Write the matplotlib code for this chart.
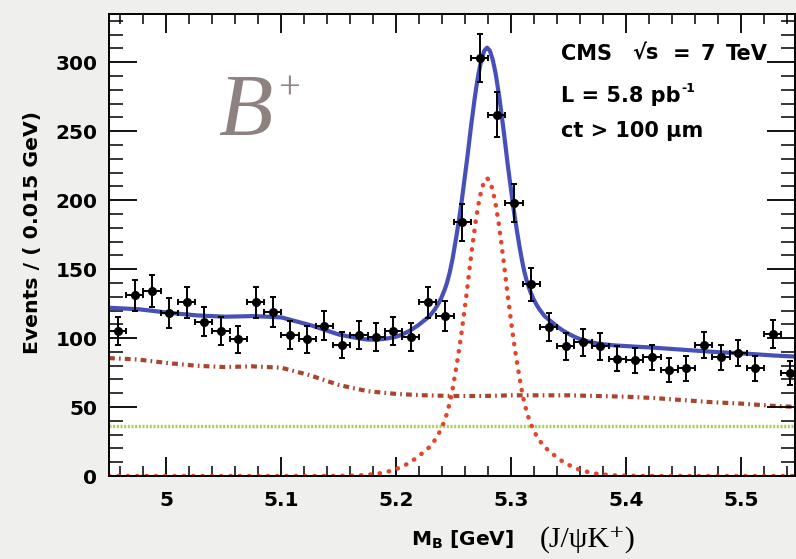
import numpy as np
import matplotlib
matplotlib.use("Agg")
import matplotlib.pyplot as plt
from matplotlib.ticker import MultipleLocator, FuncFormatter

plt.rcParams['font.family'] = ['DejaVu Sans']

# ---------------- data ----------------
bin_low = 4.95
bin_width = 0.015
counts = [105, 131, 134, 118, 126, 112, 105, 99, 126, 119,
          102, 99, 109, 95, 102, 101, 105, 101, 126, 116,
          184, 303, 262, 198, 139, 108, 94, 97, 94, 85,
          84, 86, 77, 78, 95, 86, 89, 78, 103, 75]

# signal component (red dotted): symmetric peak
sig_peak_mass = 5.279
sig_offsets = [0.15, 0.13, 0.12, 0.11, 0.10, 0.095, 0.09, 0.085, 0.08, 0.075,
               0.07, 0.065, 0.06, 0.055, 0.05, 0.045, 0.0425, 0.04, 0.0375, 0.035,
               0.0325, 0.03, 0.0275, 0.025, 0.0225, 0.02, 0.0175, 0.015, 0.0125, 0.01,
               0.0075, 0.005, 0.0025, 0.0]
sig_half = [0.0, 0.08, 0.2, 0.5, 1.2, 1.7, 2.5, 3.5, 4.7, 6.4,
            8.5, 11, 14, 17.5, 21, 26.5, 30, 34, 39, 45,
            53, 63, 75, 88, 102, 118, 134, 152, 168.5, 184,
            197, 207, 213.7, 216]

# second background component (red dash-dot)
bkg_mass = [4.950, 4.975, 5.000, 5.025, 5.050, 5.075, 5.100, 5.125, 5.150, 5.175,
            5.200, 5.225, 5.250, 5.275, 5.300, 5.325, 5.350, 5.375, 5.400, 5.425,
            5.450, 5.475, 5.500, 5.525, 5.550]
bkg_vals = [85.5, 84.5, 82.0, 80.0, 79.0, 79.5, 78.5, 73.0, 66.0, 61.5,
            59.5, 58.5, 58.0, 58.0, 58.5, 58.5, 58.5, 58.0, 57.5, 56.5,
            55.0, 53.5, 52.5, 51.0, 50.0]

# flat background component (green dotted)
flat_level = 36.5

x_ticks = [5.0, 5.1, 5.2, 5.3, 5.4, 5.5]
y_ticks = [0, 50, 100, 150, 200, 250, 300]

# ---------------- figure ----------------
W, H = 796, 559
fig = plt.figure(figsize=(W / 100, H / 100), dpi=100, facecolor='#efefee')
ax = fig.add_axes([109 / W, 1 - 476 / H, (795 - 109) / W, (476 - 14) / H])
ax.set_facecolor('white')
ax.set_xlim(4.95, 5.547)
ax.set_ylim(0, 335)

centers = bin_low + bin_width * (np.arange(len(counts)) + 0.5)
counts_a = np.array(counts, dtype=float)
errs = np.sqrt(counts_a)

off = np.array(sig_offsets)
half = np.array(sig_half)
sig_mass = np.concatenate([[4.95], sig_peak_mass - off, sig_peak_mass + off[::-1][1:], [5.55]])
sig_vals = np.concatenate([[0.0], half, half[::-1][1:], [0.0]])

# curves
grid = np.linspace(4.95, 5.55, 1201)
sig_g = np.interp(grid, sig_mass, sig_vals)
bkg_g = np.interp(grid, bkg_mass, bkg_vals)
total = sig_g + bkg_g + flat_level

ax.axhline(flat_level, color='#a5cf55', lw=2.4, ls=(0, (0.6, 0.5)), zorder=1)
ax.plot(bkg_mass, bkg_vals, color='#a9442f', lw=3.0,
        ls=(0, (1.4, 1.0, 0.4, 1.0)), zorder=1.5)
ax.plot(sig_mass, sig_vals, color='#e3452c', lw=3.2,
        ls=(0, (0.1, 2.0)), dash_capstyle='round', zorder=1.6)
ax.plot(grid, total, color='#4650b8', lw=3.0, zorder=2)

ax.errorbar(centers, counts_a, yerr=errs, xerr=bin_width / 2, fmt='o',
            color='black', ms=5.5, lw=1.4, capsize=2.5, capthick=1.4, zorder=3)

# axes style
for s in ax.spines.values():
    s.set_linewidth(1.4)
    s.set_color('black')
ax.set_yticks(y_ticks)
ax.set_xticks(x_ticks)
ax.xaxis.set_minor_locator(MultipleLocator(0.02))
ax.yaxis.set_minor_locator(MultipleLocator(10))
ax.xaxis.set_major_formatter(FuncFormatter(lambda v, p: '%g' % round(v, 3)))
ax.tick_params(axis='both', which='both', direction='in', top=True, right=True, color='black')
ax.tick_params(axis='x', which='major', length=14, width=1.3, pad=11)
ax.tick_params(axis='x', which='minor', length=7, width=1.1)
ax.tick_params(axis='y', which='major', length=20, width=1.3, pad=8.5)
ax.tick_params(axis='y', which='minor', length=10, width=1.1)
for lab in ax.get_xticklabels() + ax.get_yticklabels():
    lab.set_fontweight('bold')
    lab.set_fontsize(14.5)

# labels
fig.text(33 / W, 1 - 232 / H, 'Events / ( 0.015 GeV)', rotation=90,
         ha='center', va='center', fontsize=14.7, fontweight='bold')
fig.text(411 / W, 1 - 546 / H, r'M$_{\mathbf{B}}$ [GeV]', ha='left', va='baseline',
         fontsize=14.5, fontweight='bold')
fig.text(540 / W, 1 - 547 / H, '(J/ψK⁺)', ha='left', va='baseline',
         fontsize=21.5, family=['Liberation Serif', 'DejaVu Serif'])

# CMS line, pieces placed as spaced in the reference
for xp, s in [(561, 'CMS'), (632, '√s'), (673, '='), (701, '7'), (726, 'TeV')]:
    fig.text(xp / W, 1 - 60 / H, s, ha='left', va='baseline',
             fontsize=15, fontweight='bold')
t_l = fig.text(561 / W, 1 - 102 / H, 'L = 5.8 pb', ha='left', va='baseline',
               fontsize=15, fontweight='bold')
fig.canvas.draw()
bb = t_l.get_window_extent(renderer=fig.canvas.get_renderer())
fig.text((bb.x1 + 1) / W, 1 - 92 / H, '-1', ha='left', va='baseline',
         fontsize=9, fontweight='bold')
fig.text(561 / W, 1 - 137 / H, 'ct > 100 μm', ha='left', va='baseline',
         fontsize=15, fontweight='bold')

fig.text(218 / W, 1 - 135 / H, 'B', ha='left', va='baseline', fontsize=64,
         style='italic', family='Liberation Serif', color='#8d8280')
fig.text(289 / W, 1 - 89 / H, '+', ha='center', va='center', fontsize=28,
         family='Liberation Serif', color='#8d8280')

fig.savefig('out.png', dpi=100, facecolor=fig.get_facecolor())
